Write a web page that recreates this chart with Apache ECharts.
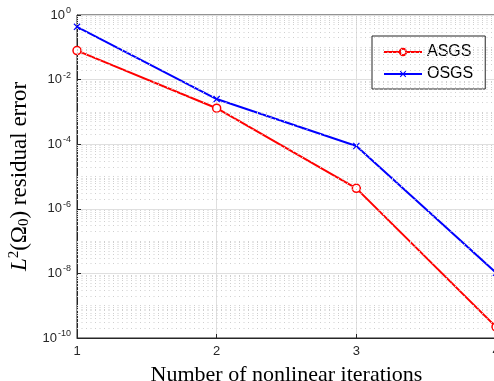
<!DOCTYPE html>
<html><head><meta charset="utf-8">
<script src="https://cdn.jsdelivr.net/npm/echarts@6/dist/echarts.min.js"></script>
<style>html,body{margin:0;padding:0;background:#fff}#c{width:494px;height:381px}</style>
</head><body><div id="c"></div>
<script>
const iterations = [1, 2, 3, 4];
const asgs = [0.079, 1.3e-3, 4.3e-6, 2.2e-10];
const osgs = [0.43, 2.5e-3, 8.8e-5, 1.05e-8];
const seriesNames = ['ASGS', 'OSGS'];

// minor log grid positions (odd decades and 2..9 multiples)
const minorLines = [];
for (let e = -10; e < 0; e++) {
  for (let m = 1; m <= 9; m++) {
    if (m === 1 && e % 2 === 0) continue;
    const v = m * Math.pow(10, e);
    minorLines.push([{ coord: [1, v] }, { coord: [4, v] }]);
  }
}

const chart = echarts.init(document.getElementById('c'));
const sans = '"Liberation Sans", Arial, Helvetica, sans-serif';
const serif = '"Liberation Serif", "Times New Roman", serif';
chart.setOption({
  animation: false,
  backgroundColor: '#fff',
  grid: { left: 77, right: -2, top: 15, bottom: 43, outerBoundsMode: 'none', containLabel: false, show: true, borderColor: '#262626', borderWidth: 1, backgroundColor: 'transparent' },
  legend: {
    data: seriesNames,
    orient: 'vertical',
    left: 372, top: 36,
    padding: [8, 12, 7, 11],
    itemWidth: 38, itemHeight: 8, itemGap: 6,
    borderColor: '#262626', borderWidth: 1, backgroundColor: '#fff',
    textStyle: { fontFamily: sans, fontSize: 16, lineHeight: 16, color: '#000' }
  },
  xAxis: {
    type: 'value', min: 1, max: 4, interval: 1,
    name: 'Number of nonlinear iterations',
    nameLocation: 'middle', nameGap: 26,
    nameTextStyle: { fontFamily: serif, fontSize: 22, color: '#000' },
    axisLine: { show: true, lineStyle: { color: '#262626', width: 1 } },
    axisTick: { show: true, inside: true, length: 4, lineStyle: { color: '#262626' } },
    axisLabel: { fontFamily: sans, fontSize: 13, color: '#262626', margin: 7 },
    splitLine: { show: true, lineStyle: { color: '#dfdfdf', width: 1 } }
  },
  yAxis: {
    type: 'log', logBase: 10, min: 1e-10, max: 1, interval: 2,
    name: '{i|L}{sup|2}{n|(Ω}{sub|0}{n|) residual error}',
    nameLocation: 'middle', nameGap: 43,
    nameTextStyle: {
      fontFamily: serif, fontSize: 23, color: '#000',
      rich: {
        i: { fontFamily: serif, fontSize: 23, fontStyle: 'italic' },
        n: { fontFamily: serif, fontSize: 23 },
        sup: { fontFamily: serif, fontSize: 15, padding: [0, 0, 12, 0] },
        sub: { fontFamily: serif, fontSize: 15, padding: [9, 0, 0, 0] }
      }
    },
    axisLine: { show: true, lineStyle: { color: '#262626', width: 1 } },
    axisTick: { show: true, inside: true, length: 4, lineStyle: { color: '#262626' } },
    axisLabel: {
      margin: 6, color: '#262626',
      formatter: function (v) { return '{b|10}{s|' + Math.round(Math.log10(v)) + '}'; },
      rich: {
        b: { fontFamily: sans, fontSize: 13, color: '#262626' },
        s: { fontFamily: sans, fontSize: 9, color: '#262626', padding: [0, 0, 9, 1] }
      }
    },
    splitLine: { show: true, lineStyle: { color: '#dfdfdf', width: 1 } }
  },
  series: [
    {
      name: seriesNames[0], type: 'line',
      data: iterations.map((x, i) => [x, asgs[i]]),
      lineStyle: { color: '#ff0000', width: 2 },
      itemStyle: { color: '#fff', borderColor: '#ff0000', borderWidth: 1.5 },
      symbol: 'circle', symbolSize: 8, showAllSymbol: true,
      z: 3,
      markLine: {
        silent: true, symbol: 'none', animation: false,
        label: { show: false },
        lineStyle: { color: '#cfcfcf', type: [1, 3.5], width: 1 },
        emphasis: { disabled: true },
        data: minorLines
      }
    },
    {
      name: seriesNames[1], type: 'line',
      data: iterations.map((x, i) => [x, osgs[i]]),
      lineStyle: { color: '#0000ff', width: 2 },
      itemStyle: { color: '#0000ff' },
      symbol: 'path://M0,1.2L1.2,0L5,3.8L8.8,0L10,1.2L6.2,5L10,8.8L8.8,10L5,6.2L1.2,10L0,8.8L3.8,5Z',
      symbolSize: 7, showAllSymbol: true,
      z: 4
    }
  ]
});
</script></body></html>
